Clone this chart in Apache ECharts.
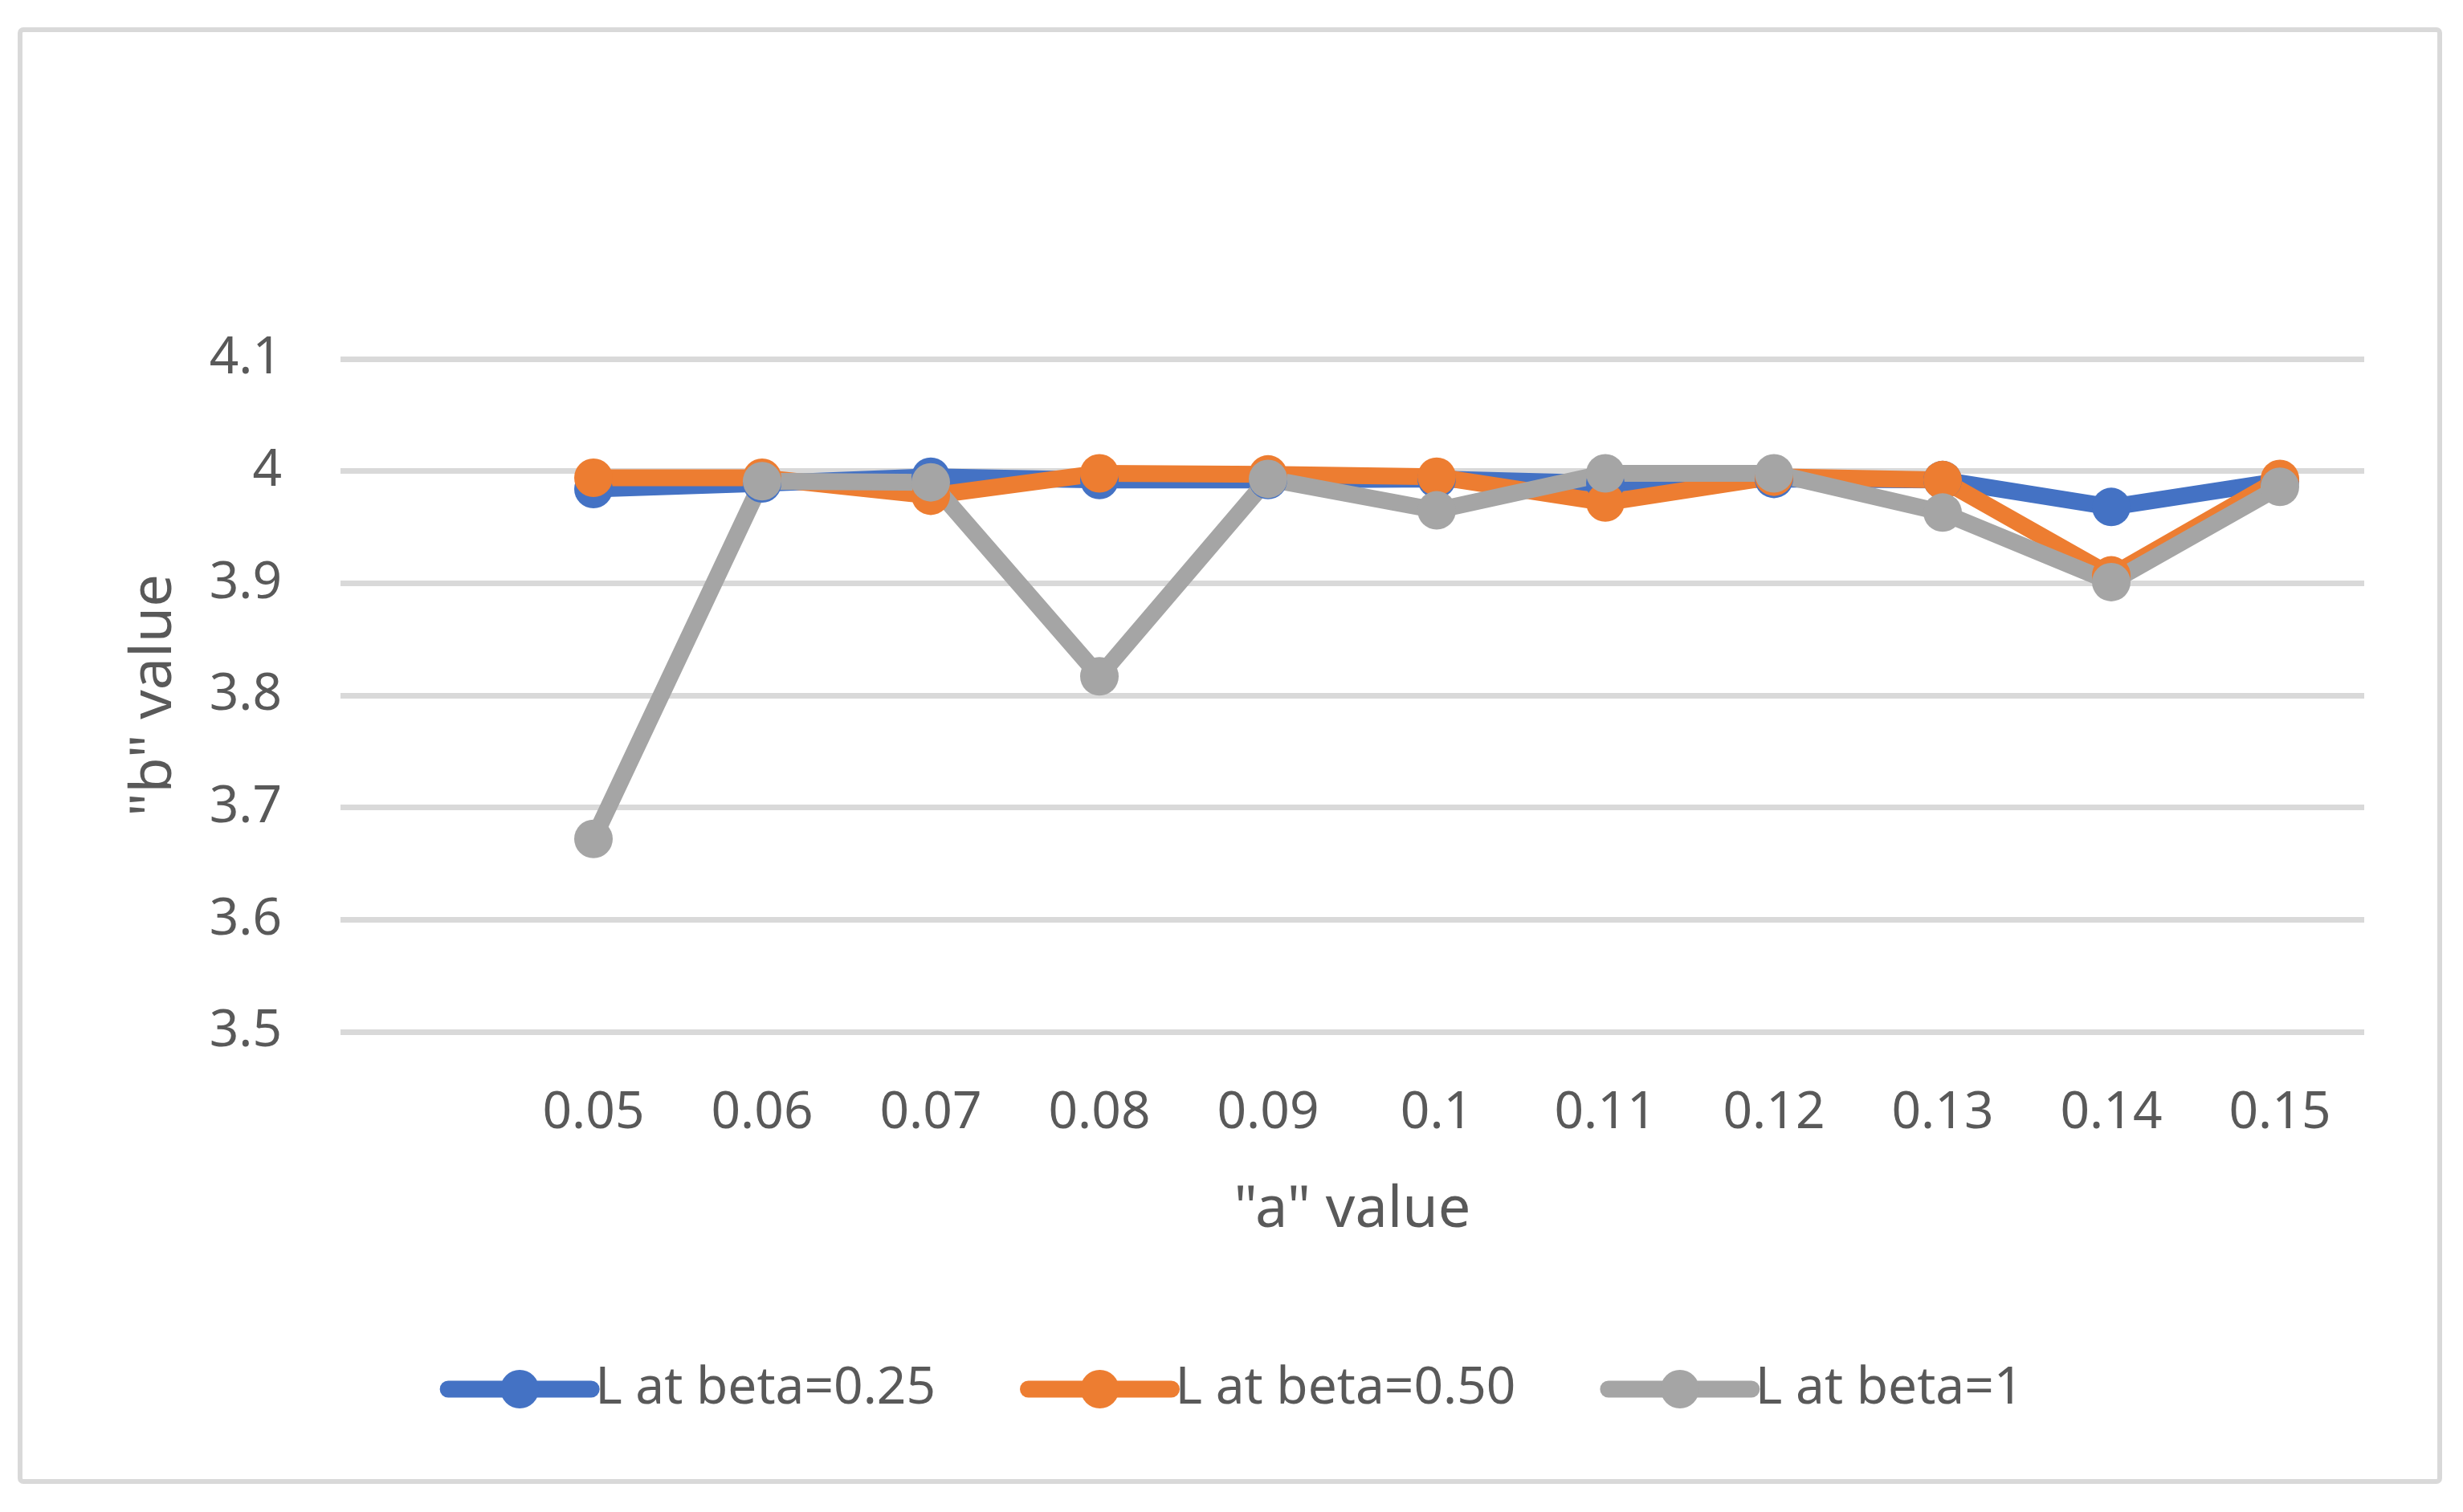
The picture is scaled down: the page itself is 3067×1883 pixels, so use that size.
<!DOCTYPE html>
<html>
<head>
<meta charset="utf-8">
<script src="https://cdn.jsdelivr.net/npm/echarts@6/dist/echarts.min.js"></script>
<style>
html,body{margin:0;padding:0;background:#fff;}
#chart{width:3067px;height:1883px;}
</style>
</head>
<body>
<div id="chart"></div>
<script>
var categories = ['', '0.05', '0.06', '0.07', '0.08', '0.09', '0.1', '0.11', '0.12', '0.13', '0.14', '0.15'];
var seriesNames = ['L at beta=0.25', 'L at beta=0.50', 'L at beta=1'];
var beta025 = [null, 3.984, 3.989, 3.995, 3.992, 3.992, 3.993, 3.989, 3.993, 3.992, 3.968, 3.991];
var beta050 = [null, 3.994, 3.994, 3.978, 3.998, 3.997, 3.995, 3.972, 3.995, 3.992, 3.907, 3.993];
var beta1   = [null, 3.672, 3.991, 3.990, 3.817, 3.993, 3.965, 3.998, 3.998, 3.963, 3.901, 3.986];
var yTicks = { min: 3.5, max: 4.1, interval: 0.1 };
var colors = ['#4472C4', '#ED7D31', '#A5A5A5'];

var FONT = 'Noto Sans';
var TXT = '#595959';

function mk(name, data, color) {
  return {
    name: name,
    type: 'line',
    data: data,
    symbol: 'circle',
    symbolSize: 48,
    showSymbol: true,
    connectNulls: false,
    lineStyle: { color: color, width: 21, cap: 'round', join: 'round' },
    itemStyle: { color: color },
    emphasis: { disabled: true },
    animation: false
  };
}

var chart = echarts.init(document.getElementById('chart'), null, { renderer: 'canvas' });
chart.setOption({
  animation: false,
  backgroundColor: '#ffffff',
  color: colors,
  graphic: [{
    type: 'rect',
    shape: { x: 25, y: 37, width: 3013, height: 1808, r: 4 },
    style: { fill: 'none', stroke: '#D9D9D9', lineWidth: 6 },
    silent: true
  }],
  grid: { left: 424, right: 123, top: 447, bottom: 598, containLabel: false },
  xAxis: {
    type: 'category',
    data: categories,
    boundaryGap: true,
    name: '"a" value',
    nameLocation: 'middle',
    nameGap: 186,
    nameTextStyle: { fontFamily: FONT, fontSize: 72, color: TXT },
    axisLine: { show: false },
    axisTick: { show: false },
    axisLabel: { fontFamily: FONT, fontSize: 64, color: TXT, margin: 70, interval: 0 },
    splitLine: { show: false }
  },
  yAxis: {
    type: 'value',
    min: yTicks.min,
    max: yTicks.max,
    interval: yTicks.interval,
    name: '"b" value',
    nameLocation: 'middle',
    nameRotate: 90,
    nameGap: 196,
    nameTextStyle: { fontFamily: FONT, fontSize: 72, color: TXT },
    axisLine: { show: false },
    axisTick: { show: false },
    axisLabel: {
      fontFamily: FONT, fontSize: 64, color: TXT, margin: 73,
      formatter: function (v) { return String(Math.round(v * 10) / 10); }
    },
    splitLine: { show: true, lineStyle: { color: '#D9D9D9', width: 7 } }
  },
  legend: {
    data: seriesNames,
    left: 'center',
    top: 1693,
    itemWidth: 178,
    itemHeight: 60,
    itemGap: 105,
    lineStyle: { width: 21 },
    textStyle: { fontFamily: FONT, fontSize: 64, color: TXT },
    selectedMode: false
  },
  series: [
    mk(seriesNames[0], beta025, colors[0]),
    mk(seriesNames[1], beta050, colors[1]),
    mk(seriesNames[2], beta1, colors[2])
  ]
});
</script>
</body>
</html>
